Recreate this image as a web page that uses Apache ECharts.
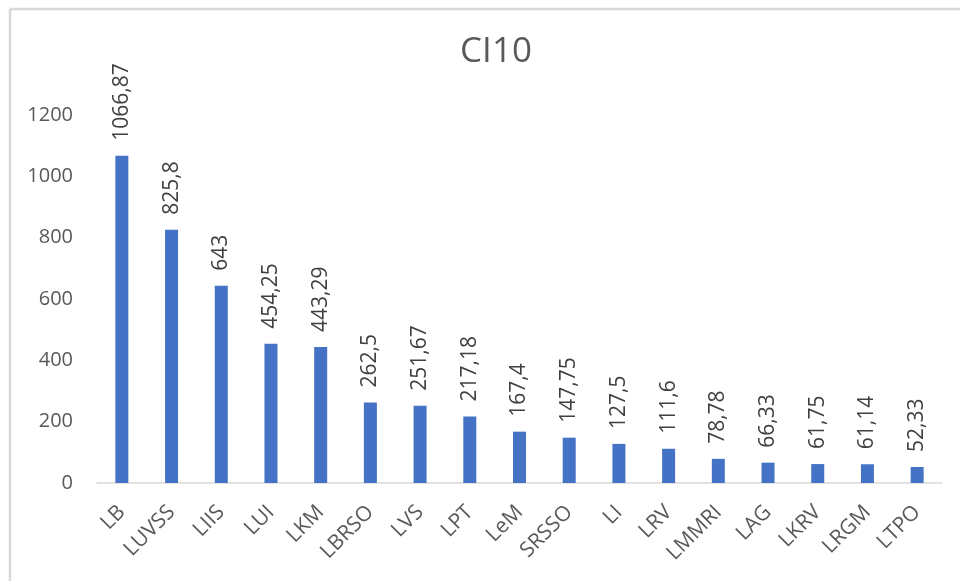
<!DOCTYPE html>
<html><head><meta charset="utf-8">
<script src="https://cdn.jsdelivr.net/npm/echarts@6/dist/echarts.min.js"></script>
<style>html,body{margin:0;padding:0;background:#fff}#c{width:960px;height:581px}</style>
</head><body><div id="c"></div>
<script>
const categories = ["LB","LUVSS","LIIS","LUI","LKM","LBRSO","LVS","LPT","LeM","SRSSO","LI","LRV","LMMRI","LAG","LKRV","LRGM","LTPO"];
const values = [1066.87,825.8,643,454.25,443.29,262.5,251.67,217.18,167.4,147.75,127.5,111.6,78.78,66.33,61.75,61.14,52.33];
const labelTexts = ["1066,87","825,8","643","454,25","443,29","262,5","251,67","217,18","167,4","147,75","127,5","111,6","78,78","66,33","61,75","61,14","52,33"];
const yTicks = [0,200,400,600,800,1000,1200];

const chart = echarts.init(document.getElementById('c'), null, {renderer:'canvas'});
const font = "'Open Sans', 'Liberation Sans', sans-serif";
chart.setOption({
  animation:false,
  backgroundColor:'#fff',
  title:{text:'CI10', left:491, top:30, textAlign:'center',
    textStyle:{fontFamily:font, fontWeight:'normal', fontSize:35, color:'#595959'}},
  grid:{left:97, right:18, top:115, bottom:98, containLabel:false},
  xAxis:{type:'category', data:categories,
    axisLine:{lineStyle:{color:'#d9d9d9', width:1.5}},
    axisTick:{show:false},
    axisLabel:{rotate:45, fontFamily:font, fontSize:21, color:'#595959', margin:26, interval:0}},
  yAxis:{type:'value', min:yTicks[0], max:yTicks[yTicks.length-1], interval:200,
    axisLine:{show:false}, axisTick:{show:false}, splitLine:{show:false},
    axisLabel:{fontFamily:font, fontSize:20, color:'#595959', margin:24, formatter:v=>String(v)}},
  series:[{type:'bar', data:values, barWidth:13,
    itemStyle:{color:'#4472C4'},
    label:{show:true, position:'top', rotate:90, align:'left', verticalAlign:'middle', distance:15,
      fontFamily:font, fontSize:21, color:'#404040',
      formatter:p=>labelTexts[p.dataIndex]}}],
  graphic:[
    {type:'line', shape:{x1:10, y1:9, x2:960, y2:9}, style:{stroke:'#d9d9d9', lineWidth:2.5}},
    {type:'line', shape:{x1:10, y1:9, x2:10, y2:581}, style:{stroke:'#d9d9d9', lineWidth:2.5}}
  ]
});
</script></body></html>
